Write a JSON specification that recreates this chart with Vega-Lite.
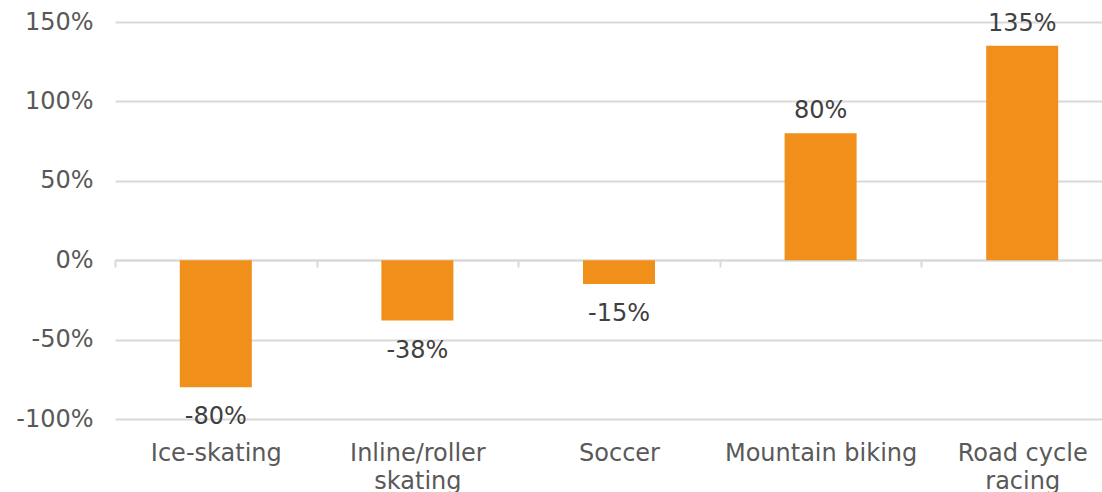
{
  "$schema": "https://vega.github.io/schema/vega-lite/v6.json",
  "width": 1008,
  "height": 397,
  "autosize": {"type": "none"},
  "padding": {"left": 115, "top": 22, "right": 0, "bottom": 73},
  "background": "white",
  "config": {"view": {"stroke": null}, "font": "DejaVu Sans"},
  "data": {
    "values": [
      {"sport": "Ice-skating", "change": -80},
      {"sport": "Inline/roller skating", "change": -38},
      {"sport": "Soccer", "change": -15},
      {"sport": "Mountain biking", "change": 80},
      {"sport": "Road cycle racing", "change": 135}
    ]
  },
  "transform": [{"calculate": "datum.change + '%'", "as": "label"}],
  "encoding": {
    "x": {
      "field": "sport",
      "type": "nominal",
      "sort": null,
      "scale": {"paddingInner": 0, "paddingOuter": 0},
      "axis": {
        "title": null,
        "orient": "bottom",
        "offset": -159,
        "domain": true,
        "domainColor": "#D9D9D9",
        "domainWidth": 2,
        "ticks": true,
        "tickColor": "#D9D9D9",
        "tickWidth": 2,
        "tickSize": 7,
        "tickBand": "extent",
        "grid": false,
        "labelAngle": 0,
        "labelFont": "DejaVu Sans",
        "labelFontSize": 24,
        "labelColor": "#595959",
        "labelPadding": 174,
        "labelBaseline": "top",
        "labelLineHeight": 28,
        "labelLimit": 0,
        "labelOverlap": false,
        "labelExpr": "datum.label == 'Inline/roller skating' ? ['Inline/roller', 'skating'] : datum.label == 'Road cycle racing' ? ['Road cycle', 'racing'] : datum.label"
      }
    }
  },
  "layer": [
    {
      "mark": {"type": "bar", "width": 72, "color": "#F08F1A"},
      "encoding": {
        "y": {
          "field": "change",
          "type": "quantitative",
          "scale": {"domain": [-100, 150], "nice": false},
          "axis": {
            "title": null,
            "values": [-100, -50, 0, 50, 100, 150],
            "labelExpr": "datum.value + '%'",
            "domain": false,
            "ticks": false,
            "grid": true,
            "gridColor": "#D9D9D9",
            "gridWidth": 2,
            "labelFont": "DejaVu Sans",
            "labelFontSize": 24,
            "labelColor": "#595959",
            "labelPadding": 22
          }
        }
      }
    },
    {
      "transform": [{"filter": "datum.change >= 0"}],
      "mark": {"type": "text", "baseline": "alphabetic", "dy": -15, "fontSize": 24, "font": "DejaVu Sans", "color": "#404040"},
      "encoding": {
        "y": {"field": "change", "type": "quantitative"},
        "text": {"field": "label"}
      }
    },
    {
      "transform": [{"filter": "datum.change < 0"}],
      "mark": {"type": "text", "baseline": "alphabetic", "dy": 37, "fontSize": 24, "font": "DejaVu Sans", "color": "#404040"},
      "encoding": {
        "y": {"field": "change", "type": "quantitative"},
        "text": {"field": "label"}
      }
    }
  ]
}
